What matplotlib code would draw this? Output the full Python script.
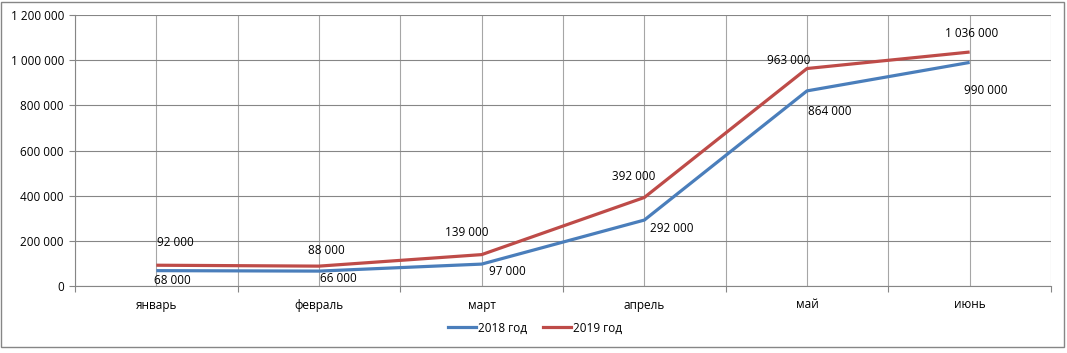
import matplotlib.pyplot as plt
from matplotlib.ticker import FuncFormatter, MultipleLocator
from matplotlib.lines import Line2D
from matplotlib.patches import Rectangle

months = ['январь', 'февраль', 'март', 'апрель', 'май', 'июнь']
sales_2018 = [68000, 66000, 97000, 292000, 864000, 990000]
sales_2019 = [92000, 88000, 139000, 392000, 963000, 1036000]

# label offsets in points (dx, dy) relative to each point
off_2018 = [(11.5, -7), (14, -5), (18.5, -5), (20, -6), (16.5, -14.5), (11.5, -20.5)]
off_2019 = [(13.5, 16.5), (5, 11.5), (-11, 16), (-8, 15), (-13.5, 5.5), (1.5, 13)]

plt.rcParams['font.family'] = ['Open Sans', 'DejaVu Sans']

fig = plt.figure(figsize=(10.67, 3.53), dpi=100)
ax = fig.add_axes([75 / 1067, 1 - 286 / 353, 976 / 1067, 271 / 353])

# outer chart border
fig.patches.append(Rectangle((1 / 1067, 1 - 347 / 353), 1063 / 1067, 345 / 353,
                             transform=fig.transFigure, fill=False,
                             edgecolor='#868686', linewidth=1))

x = [i + 0.5 for i in range(len(months))]
blue = '#4A7EBB'
red = '#BE4B48'
ax.plot(x, sales_2018, color=blue, linewidth=2.3, solid_capstyle='butt', zorder=3)
ax.plot(x, sales_2019, color=red, linewidth=2.3, solid_capstyle='butt', zorder=3)

fmt = lambda v: f'{int(v):,}'.replace(',', ' ')
for xi, v, o in zip(x, sales_2018, off_2018):
    ax.annotate(fmt(v), (xi, v), xytext=o, textcoords='offset points',
                ha='center', va='center', fontsize=8.5)
for xi, v, o in zip(x, sales_2019, off_2019):
    ax.annotate(fmt(v), (xi, v), xytext=o, textcoords='offset points',
                ha='center', va='center', fontsize=8.5)

ax.set_xlim(0, 6)
ax.set_ylim(0, 1200000)
ax.yaxis.set_major_locator(MultipleLocator(200000))
ax.yaxis.set_major_formatter(FuncFormatter(lambda v, p: fmt(v)))
ax.xaxis.set_major_locator(MultipleLocator(1))
ax.set_xticks(x, minor=True)
ax.set_xticklabels(months, minor=True)
ax.xaxis.set_major_formatter(FuncFormatter(lambda v, p: ''))

ax.tick_params(axis='x', which='minor', length=0, labelsize=8.5, pad=9)
ax.tick_params(axis='x', which='major', length=4, color='#868686')
ax.tick_params(axis='y', length=4, color='#868686', labelsize=8.5, pad=4)

ax.grid(True, which='both', axis='x', color='#A6A6A6', linewidth=0.8)
ax.grid(True, which='major', axis='y', color='#868686', linewidth=0.8)
ax.set_axisbelow(True)
for s in ['top', 'right']:
    ax.spines[s].set_visible(False)
ax.spines['left'].set_color('#868686')
ax.spines['bottom'].set_color('#868686')

handles = [Line2D([], [], color=blue, linewidth=2.3),
           Line2D([], [], color=red, linewidth=2.3)]
fig.legend(handles, ['2018 год', '2019 год'], loc='center',
           bbox_to_anchor=(535 / 1067, 1 - 328 / 353), ncol=2, frameon=False,
           fontsize=8.5, handlelength=2.4, handletextpad=0.2, columnspacing=1.3)

fig.savefig('out.png', dpi=100)
